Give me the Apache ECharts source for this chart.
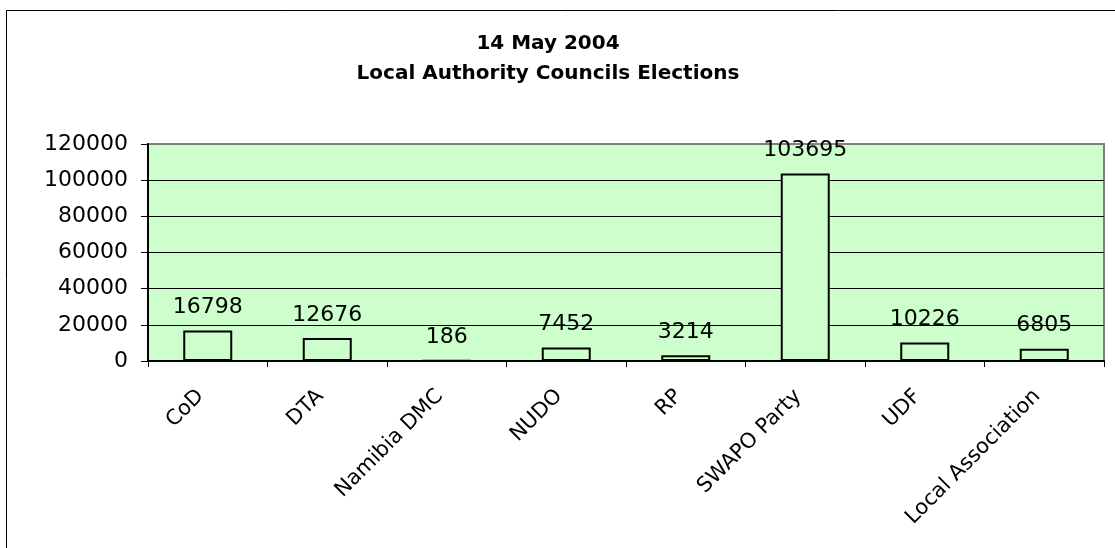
<!DOCTYPE html>
<html>
<head>
<meta charset="utf-8">
<script src="https://cdn.jsdelivr.net/npm/echarts@6/dist/echarts.min.js"></script>
<style>
  html, body { margin: 0; padding: 0; background: #fff; }
  #chart { width: 1115px; height: 548px; }
</style>
</head>
<body>
<div id="chart"></div>
<script>
// parties and their vote counts
var parties = ["CoD", "DTA", "Namibia DMC", "NUDO", "RP", "SWAPO Party", "UDF", "Local Association"];
var votes = [16798, 12676, 186, 7452, 3214, 103695, 10226, 6805];
var yTicks = [0, 20000, 40000, 60000, 80000, 100000, 120000];

var font = "DejaVu Sans, Liberation Sans, Arial, sans-serif";
var myChart = echarts.init(document.getElementById("chart"));

var option = {
  animation: false,
  backgroundColor: "#fff",
  textStyle: { fontFamily: font },
  title: {
    text: "14 May 2004\nLocal Authority Councils Elections",
    left: 543,
    top: 24,
    textAlign: "center",
    textStyle: {
      fontSize: 20,
      fontWeight: "bold",
      color: "#000",
      lineHeight: 30,
      fontFamily: font
    }
  },
  // outer chart frame
  graphic: [{
    type: "rect",
    shape: { x: 6.5, y: 10.5, width: 1120, height: 600 },
    style: { fill: "none", stroke: "#000", lineWidth: 1 },
    silent: true
  }],
  grid: {
    left: 148,
    right: 11,
    top: 144,
    bottom: 187,
    show: true,
    backgroundColor: "#CCFFCC",
    borderColor: "#808080",
    borderWidth: 2,
    outerBoundsMode: "none"
  },
  xAxis: {
    type: "category",
    data: parties,
    axisLine: { show: true, lineStyle: { color: "#000", width: 2 } },
    axisTick: { show: true, length: 6, lineStyle: { color: "#000" } },
    axisLabel: {
      interval: 0,
      rotate: 45,
      margin: 25,
      padding: [0, 10, 0, 0],
      fontSize: 21,
      color: "#000"
    }
  },
  yAxis: {
    type: "value",
    min: yTicks[0],
    max: yTicks[yTicks.length - 1],
    interval: yTicks[1] - yTicks[0],
    axisLine: { show: true, lineStyle: { color: "#000", width: 2 } },
    axisTick: { show: true, length: 7, lineStyle: { color: "#000" } },
    axisLabel: {
      fontSize: 22,
      color: "#000",
      margin: 20,
      formatter: function (v) { return String(v); }
    },
    splitLine: {
      show: true,
      lineStyle: {
        color: ["#000", "#000", "#000", "#000", "#000", "#000", "#808080"],
        width: 1
      }
    }
  },
  series: [{
    type: "bar",
    data: votes,
    barWidth: "41%",
    itemStyle: { color: "#CCFFCC", borderColor: "#000", borderWidth: 2 },
    label: {
      show: true,
      position: "top",
      distance: 12,
      fontSize: 22,
      color: "#000"
    }
  }]
};

myChart.setOption(option);
</script>
</body>
</html>
